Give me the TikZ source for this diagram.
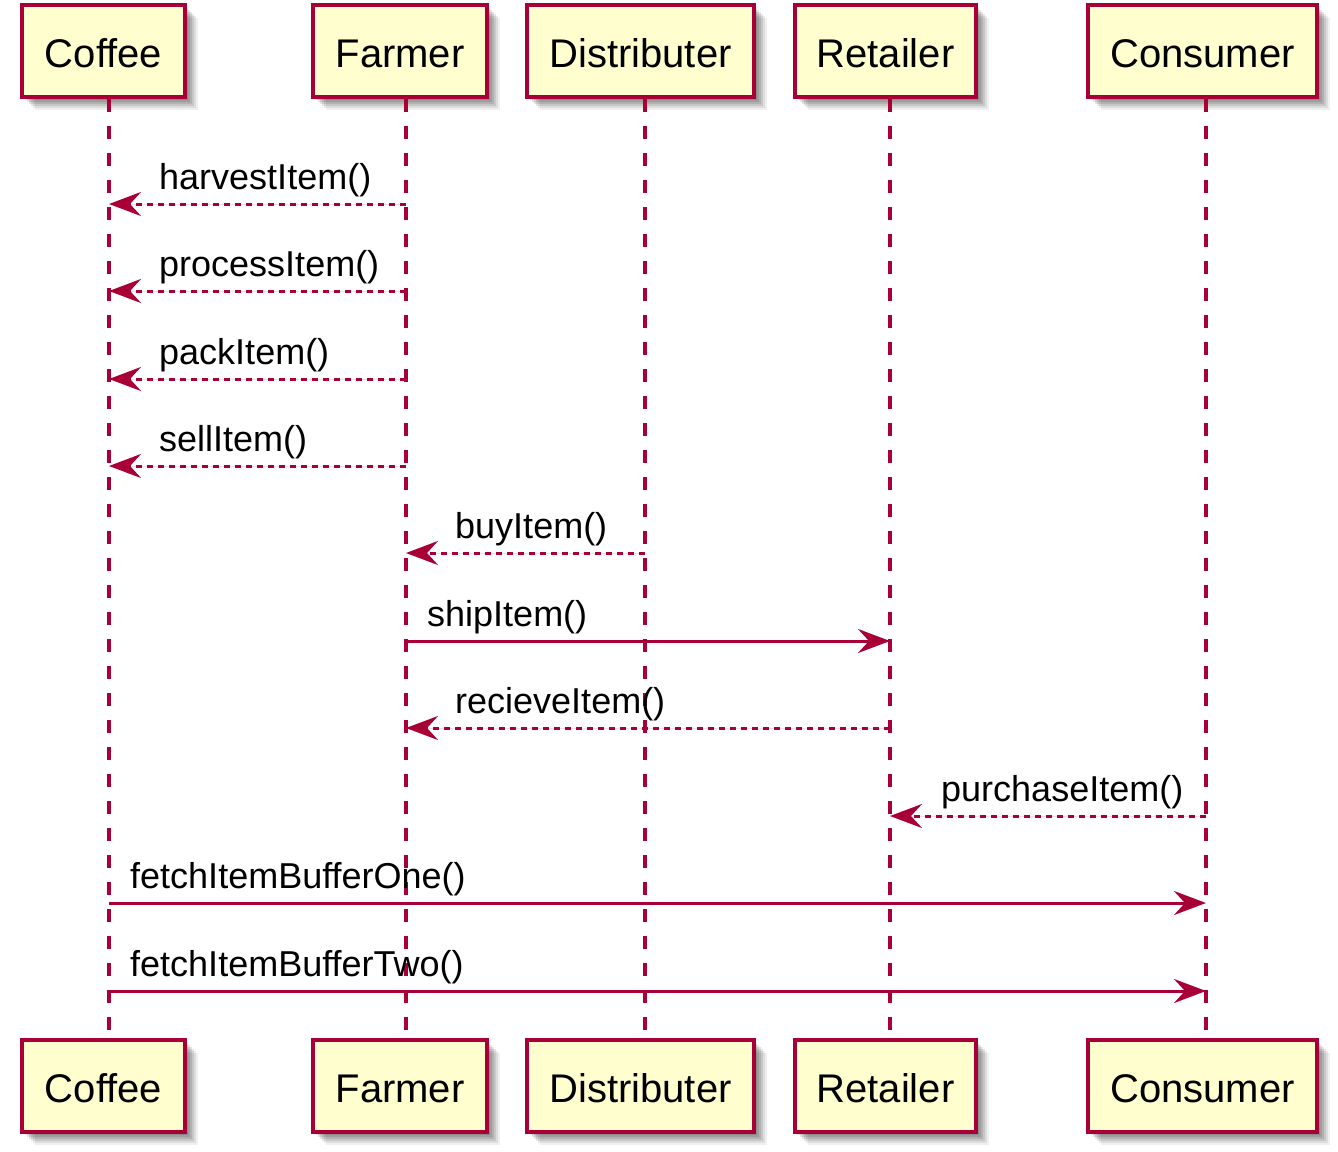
\documentclass[tikz,border=0pt]{standalone}
\usepackage{fontspec}
\setmainfont{Liberation Sans}
\usetikzlibrary{arrows.meta,shadows}
\definecolor{pu}{HTML}{A80036}
\definecolor{pf}{HTML}{FEFECE}
\begin{document}
\begin{tikzpicture}[x=1pt,y=-1pt,
  pbox/.style={draw=pu, fill=pf, line width=4pt, minimum height=92pt, inner sep=0pt,
    text height=32pt, text depth=0pt,
    font=\fontsize{40}{48}\selectfont,
    general shadow={fill=black,opacity=.11,shadow xshift=3pt,shadow yshift=-3pt},
    general shadow={fill=black,opacity=.11,shadow xshift=5pt,shadow yshift=-5pt},
    general shadow={fill=black,opacity=.11,shadow xshift=7pt,shadow yshift=-7pt},
    general shadow={fill=black,opacity=.1,shadow xshift=9pt,shadow yshift=-9pt},
    general shadow={fill=black,opacity=.08,shadow xshift=11pt,shadow yshift=-11pt},
    general shadow={fill=black,opacity=.06,shadow xshift=13pt,shadow yshift=-13pt}},
  life/.style={draw=pu, line width=3.2pt, dash pattern=on 13pt off 14pt},
  tip/.style={-{Stealth[length=32pt,width=24pt,inset=11pt]}},
  msg/.style={draw=pu, fill=pu, line width=3pt, tip},
  msgd/.style={msg, dash pattern=on 6pt off 5pt},
  lbl/.style={anchor=base west, inner sep=0pt, font=\fontsize{36}{43}\selectfont}]
\useasboundingbox (0,0) rectangle (1338,1151);
% participant boxes
\foreach \n/\t/\l/\r in {c/Coffee/22/185, f/Farmer/313/487, d/Distributer/527/754, r/Retailer/795/976, k/Consumer/1088/1317}{
  \node[pbox, minimum width={\r-\l}] (\n T) at ({(\l+\r)/2},51) {\t};
  \node[pbox, minimum width={\r-\l}] (\n B) at ({(\l+\r)/2},1086) {\t};
}
% lifelines
\foreach \n/\x in {c/109, f/406, d/645, r/890, k/1206}{
  \coordinate (\n top) at (\x,99);
  \coordinate (\n bot) at (\x,1038);
}
\draw[life] (ctop) -- (cbot);
\draw[life] (ftop) -- (fbot);
\draw[life] (dtop) -- (dbot);
\draw[life] (rtop) -- (rbot);
\draw[life] (ktop) -- (kbot);
% message end points
\foreach \i/\y in {1/204,2/291,3/379,4/466,5/553,6/641,7/728,8/816,9/903,10/991}{
  \coordinate (c\i) at (109,\y);
  \coordinate (f\i) at (406,\y);
  \coordinate (d\i) at (645,\y);
  \coordinate (r\i) at (890,\y);
  \coordinate (k\i) at (1206,\y);
}
\draw[msgd] (f1) -- (c1);
\draw[msgd] (f2) -- (c2);
\draw[msgd] (f3) -- (c3);
\draw[msgd] (f4) -- (c4);
\draw[msgd] (d5) -- (f5);
\draw[msg]  (f6) -- (r6);
\draw[msgd] (r7) -- (f7);
\draw[msgd] (k8) -- (r8);
\draw[msg]  (c9) -- (k9);
\draw[msg]  (c10) -- (k10);
\node[lbl] (l1) at (159,189) {harvestItem()};
\node[lbl] (l2) at (159,276) {processItem()};
\node[lbl] (l3) at (159,364) {packItem()};
\node[lbl] (l4) at (159,451) {sellItem()};
\node[lbl] (l5) at (455,538) {buyItem()};
\node[lbl] (l6) at (427,626) {shipItem()};
\node[lbl] (l7) at (455,713) {recieveItem()};
\node[lbl] (l8) at (941,801) {purchaseItem()};
\node[lbl] (l9) at (130,888) {fetchItemBufferOne()};
\node[lbl] (l10) at (130,976) {fetchItemBufferTwo()};
\end{tikzpicture}
\end{document}
